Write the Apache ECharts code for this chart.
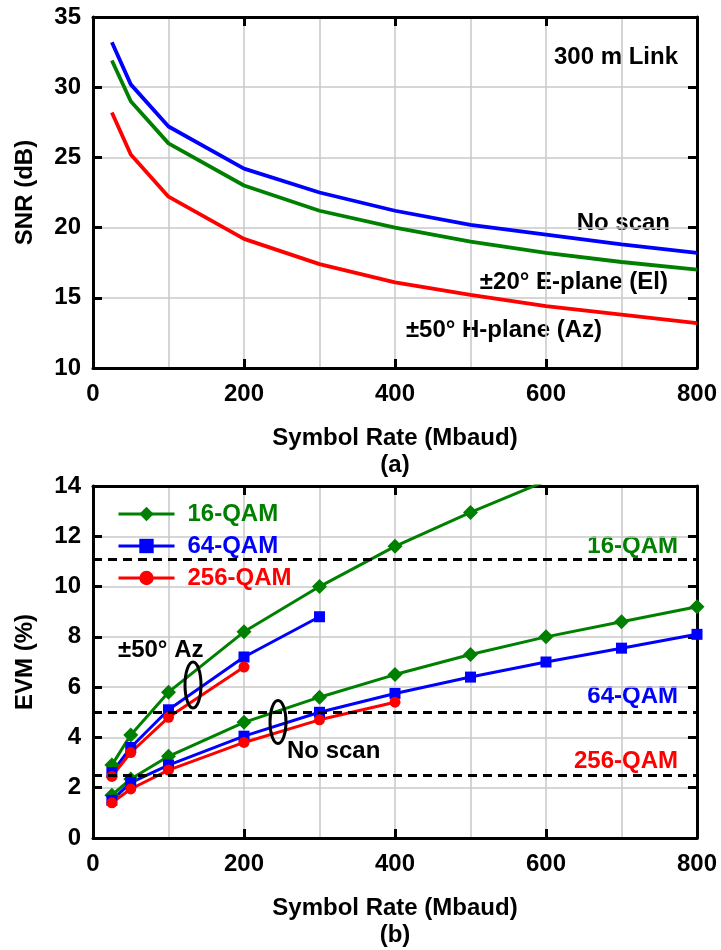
<!DOCTYPE html>
<html>
<head>
<meta charset="utf-8">
<script src="https://cdn.jsdelivr.net/npm/echarts@6/dist/echarts.min.js"></script>
<style>
  html, body { margin: 0; padding: 0; background: #fff; }
  #chart { width: 721px; height: 950px; }
</style>
</head>
<body>
<div id="chart"></div>
<script>
// ---------- Data ----------
const symbolRate = [25, 50, 100, 200, 300, 400, 500, 600, 700, 800];

// (a) SNR (dB)
const snrNoScan = [33.2, 30.2, 27.2, 24.2, 22.5, 21.2, 20.2, 19.5, 18.8, 18.2];
const snrEPlane = [31.9, 29.0, 26.0, 23.0, 21.2, 20.0, 19.0, 18.2, 17.55, 17.0];
const snrHPlane = [28.2, 25.2, 22.2, 19.2, 17.4, 16.1, 15.2, 14.4, 13.8, 13.2];

// (b) EVM (%) - ±50° Az
const rateAz16 = [25, 50, 100, 200, 300, 400, 500, 600];
const evmAz16 = [2.9, 4.1, 5.8, 8.2, 10.0, 11.6, 12.95, 14.2];
const rateAz64 = [25, 50, 100, 200, 300];
const evmAz64 = [2.6, 3.6, 5.1, 7.2, 8.8];
const rateAz256 = [25, 50, 100, 200];
const evmAz256 = [2.45, 3.4, 4.8, 6.8];

// (b) EVM (%) - No scan
const rateNs16 = [25, 50, 100, 200, 300, 400, 500, 600, 700, 800];
const evmNs16 = [1.7, 2.35, 3.25, 4.6, 5.6, 6.5, 7.3, 8.0, 8.6, 9.2];
const rateNs64 = [25, 50, 100, 200, 300, 400, 500, 600, 700, 800];
const evmNs64 = [1.5, 2.2, 2.9, 4.05, 5.0, 5.75, 6.4, 7.0, 7.55, 8.1];
const rateNs256 = [25, 50, 100, 200, 300, 400];
const evmNs256 = [1.4, 1.95, 2.7, 3.8, 4.7, 5.4];

// EVM thresholds (dashed)
const evmThresholds = [11.1, 5.0, 2.5];

const modNames = ['16-QAM', '64-QAM', '256-QAM'];

// ---------- Styles ----------
const GREEN = '#008000', BLUE = '#0000ff', RED = '#ff0000';
const FONT = 'Liberation Sans, Arial, sans-serif';
const txt = { fontFamily: FONT, fontWeight: 'bold', fontSize: 24, color: '#000' };

function pairs(xs, ys) { return xs.map((x, i) => [x, ys[i]]); }

function xAxisPair(gridIndex) {
  const base = {
    gridIndex, type: 'value', min: 0, max: 800, interval: 200,
    axisLine: { show: true, onZero: false, lineStyle: { color: '#000', width: 3 } },
    axisTick: { show: true, inside: true, length: 9, lineStyle: { color: '#000', width: 3 } },
  };
  return [
    Object.assign({}, base, {
      position: 'bottom',
      axisLabel: Object.assign({ margin: 14 }, txt),
      splitLine: { show: true, lineStyle: { color: '#c8c8c8', width: 1.5 } },
      minorTick: { show: false, splitNumber: 2 },
      minorSplitLine: { show: true, lineStyle: { color: '#c8c8c8', width: 1.5 } },
      name: 'Symbol Rate (Mbaud)', nameLocation: 'middle', nameGap: 58,
      nameTextStyle: txt
    }),
    Object.assign({}, base, {
      position: 'top', axisLabel: { show: false }, splitLine: { show: false }
    })
  ];
}
function yAxisPair(gridIndex, min, max, interval, name) {
  const base = {
    gridIndex, type: 'value', min, max, interval,
    axisLine: { show: true, onZero: false, lineStyle: { color: '#000', width: 3 } },
    axisTick: { show: true, inside: true, length: 9, lineStyle: { color: '#000', width: 3 } },
  };
  return [
    Object.assign({}, base, {
      position: 'left',
      axisLabel: Object.assign({ margin: 12 }, txt),
      splitLine: { show: true, lineStyle: { color: '#c8c8c8', width: 1.5 } },
      name, nameLocation: 'middle', nameGap: 56, nameTextStyle: txt
    }),
    Object.assign({}, base, {
      position: 'right', axisLabel: { show: false }, splitLine: { show: false }
    })
  ];
}

const chart = echarts.init(document.getElementById('chart'), null, { renderer: 'canvas' });

const snrLine = (name, data, color) => ({
  name, type: 'line', xAxisIndex: 0, yAxisIndex: 0,
  data: pairs(symbolRate, data), showSymbol: false, symbol: 'none',
  lineStyle: { color, width: 3.8 }, itemStyle: { color }, z: 3
});
const evmLine = (name, xs, ys, color, symbol, size) => ({
  name, type: 'line', xAxisIndex: 2, yAxisIndex: 2,
  data: pairs(xs, ys), symbol, symbolSize: size, showSymbol: true, clip: true,
  lineStyle: { color, width: 3 }, itemStyle: { color }, z: 4
});
function txtG(color) {
  return { font: 'bold 24px ' + FONT, fill: color };
}

const option = {
  animation: false,
  backgroundColor: '#fff',
  grid: [
    { left: 93, top: 17, width: 604, height: 351 },
    { left: 93, top: 486, width: 604, height: 352 }
  ],
  xAxis: [...xAxisPair(0), ...xAxisPair(1)],
  yAxis: [...yAxisPair(0, 10, 35, 5, 'SNR (dB)'), ...yAxisPair(1, 0, 14, 2, 'EVM (%)')],
  legend: {
    left: 112, top: 497, orient: 'vertical', itemWidth: 56, itemHeight: 18, itemGap: 8,
    selectedMode: false,
    lineStyle: { width: 3 },
    textStyle: Object.assign({}, txt, { padding: [0, 0, 0, 8] }),
    data: [
      { name: modNames[0], textStyle: { color: GREEN } },
      { name: modNames[1], textStyle: { color: BLUE } },
      { name: modNames[2], textStyle: { color: RED } }
    ]
  },
  series: [
    snrLine('snrEPlane', snrEPlane, GREEN),
    snrLine('snrNoScan', snrNoScan, BLUE),
    snrLine('snrHPlane', snrHPlane, RED),
    {
      name: 'thresholds', type: 'line', xAxisIndex: 2, yAxisIndex: 2, data: [], z: 2,
      markLine: {
        silent: true, symbol: 'none', label: { show: false },
        lineStyle: { color: '#000', width: 3, type: [9, 6] },
        data: evmThresholds.map(v => ({ yAxis: v }))
      }
    },
    evmLine(modNames[0], rateAz16, evmAz16, GREEN, 'diamond', 15),
    evmLine(modNames[0], rateNs16, evmNs16, GREEN, 'diamond', 15),
    evmLine(modNames[1], rateAz64, evmAz64, BLUE, 'rect', 11),
    evmLine(modNames[1], rateNs64, evmNs64, BLUE, 'rect', 11),
    evmLine(modNames[2], rateAz256, evmAz256, RED, 'circle', 11),
    evmLine(modNames[2], rateNs256, evmNs256, RED, 'circle', 11)
  ],
  graphic: [
    { type: 'text', style: Object.assign({ text: '300 m Link', x: 678, y: 57, textAlign: 'right', textVerticalAlign: 'middle' }, txtG('#000')) },
    { type: 'text', style: Object.assign({ text: 'No scan', x: 670, y: 223, textAlign: 'right', textVerticalAlign: 'middle' }, txtG('#000')) },
    { type: 'text', style: Object.assign({ text: '±20° E-plane (El)', x: 668, y: 282, textAlign: 'right', textVerticalAlign: 'middle' }, txtG('#000')) },
    { type: 'text', style: Object.assign({ text: '±50° H-plane (Az)', x: 602, y: 330, textAlign: 'right', textVerticalAlign: 'middle' }, txtG('#000')) },
    { type: 'text', style: Object.assign({ text: '(a)', x: 395, y: 465, textAlign: 'center', textVerticalAlign: 'middle' }, txtG('#000')) },
    { type: 'text', style: Object.assign({ text: '(b)', x: 395, y: 935, textAlign: 'center', textVerticalAlign: 'middle' }, txtG('#000')) },
    { type: 'text', style: Object.assign({ text: '16-QAM', x: 678, y: 546, textAlign: 'right', textVerticalAlign: 'middle' }, txtG(GREEN)) },
    { type: 'text', style: Object.assign({ text: '64-QAM', x: 678, y: 696, textAlign: 'right', textVerticalAlign: 'middle' }, txtG(BLUE)) },
    { type: 'text', style: Object.assign({ text: '256-QAM', x: 678, y: 761, textAlign: 'right', textVerticalAlign: 'middle' }, txtG(RED)) },
    { type: 'text', style: Object.assign({ text: '±50° Az', x: 118, y: 650, textAlign: 'left', textVerticalAlign: 'middle' }, txtG('#000')) },
    { type: 'text', style: Object.assign({ text: 'No scan', x: 287, y: 751, textAlign: 'left', textVerticalAlign: 'middle' }, txtG('#000')) },
    { type: 'ellipse', shape: { cx: 193, cy: 685, rx: 8, ry: 23 }, style: { fill: 'none', stroke: '#000', lineWidth: 3 }, z: 10 },
    { type: 'ellipse', shape: { cx: 278, cy: 722, rx: 8, ry: 21.5 }, style: { fill: 'none', stroke: '#000', lineWidth: 3 }, z: 10 }
  ]
};

chart.setOption(option);
</script>
</body>
</html>
